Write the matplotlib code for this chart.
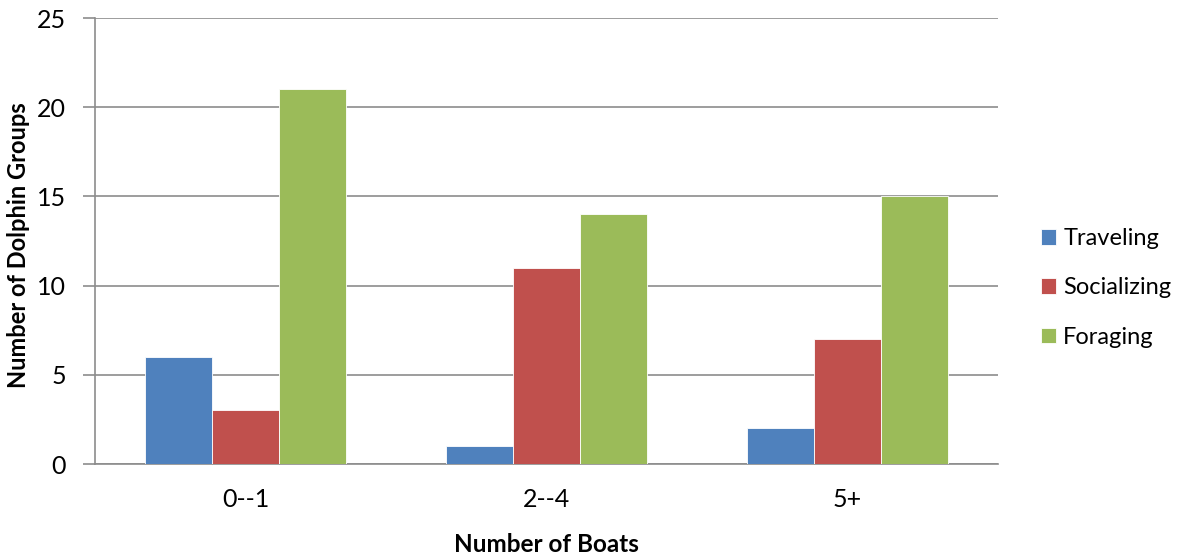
import matplotlib
matplotlib.use('Agg')
import matplotlib.pyplot as plt
import numpy as np

categories = ['0--1', '2--4', '5+']
series_names = ['Traveling', 'Socializing', 'Foraging']
traveling = [6, 1, 2]
socializing = [3, 11, 7]
foraging = [21, 14, 15]
colors = ['#4F81BD', '#C0504D', '#9BBB59']

plt.rcParams['font.family'] = ['Lato', 'DejaVu Sans']

figure = plt.figure(figsize=(11.82, 5.55), dpi=100)
axes = figure.add_axes([95 / 1182, 1 - 464 / 555, (998 - 95) / 1182, (464 - 18) / 555])

x = np.arange(len(categories))
width = 0.222
for i, (name, values) in enumerate(zip(series_names, [traveling, socializing, foraging])):
    axes.bar(x + (i - 1) * width, values, width, color=colors[i], label=name,
             edgecolor='white', linewidth=0.6, zorder=3)

axes.set_xlim(-0.5, 2.5)
axes.set_ylim(0, 25)
axes.set_yticks(range(0, 26, 5))
axes.set_xticks(x)
axes.set_xticklabels(categories)
axes.yaxis.grid(True, color='#8C8C8C', linewidth=1.2, zorder=0)
for side in ['top', 'right']:
    axes.spines[side].set_visible(False)
for side in ['left', 'bottom']:
    axes.spines[side].set_color('#8C8C8C')
    axes.spines[side].set_linewidth(1.2)
axes.tick_params(axis='x', length=0, pad=17, labelsize=18)
axes.tick_params(axis='y', length=9, width=1.2, color='#8C8C8C', pad=12, labelsize=18)

axes.set_xlabel('Number of Boats', fontsize=17.5, fontweight='bold', labelpad=16)
axes.set_ylabel('Number of Dolphin Groups', fontsize=17, fontweight='bold')
axes.yaxis.set_label_coords(-0.072, 0.49)

axes.legend(loc='center left', bbox_to_anchor=(1041 / 1182, 1 - 288 / 555),
            bbox_transform=figure.transFigure, frameon=False, fontsize=17,
            borderaxespad=0, borderpad=0, handlelength=0.64, handleheight=0.64,
            handletextpad=0.3, labelspacing=1.2)

figure.savefig('out.png', dpi=100)
